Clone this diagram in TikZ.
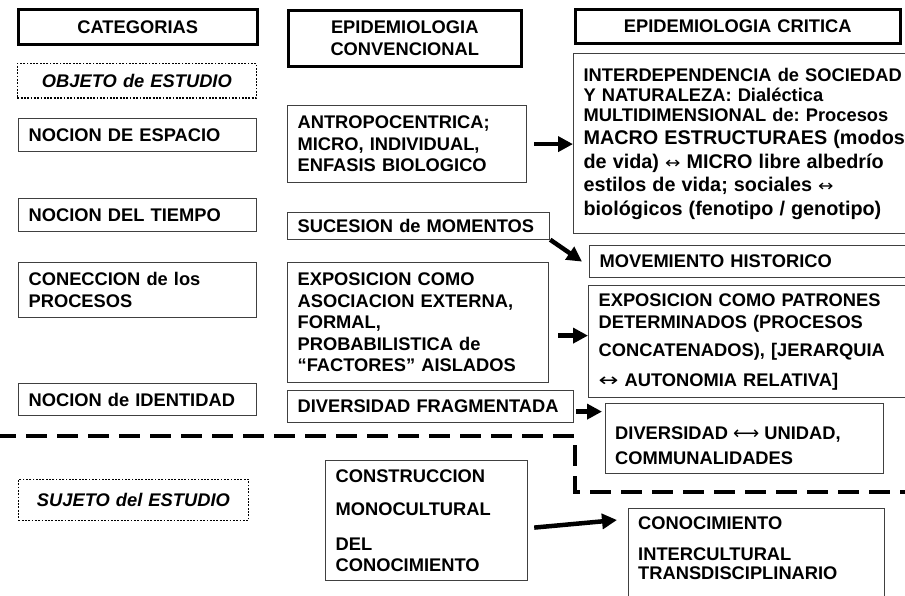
\documentclass[tikz,border=0pt]{standalone}
\usepackage{fontspec}
\setmainfont{Liberation Sans}
\newfontfamily\dejavu{DejaVu Sans}
\usetikzlibrary{arrows.meta,calc}
\newcommand\lrarr[1]{{\dejavu\mdseries\scalebox{#1}[1]{↔}}}
\begin{document}
\frenchspacing
\begin{tikzpicture}[x=1pt,y=-1pt,
  every node/.style={font=\fontsize{18.3}{21.5}\selectfont\bfseries, anchor=north west, inner xsep=10pt, inner ysep=0pt, align=left},
  thinbox/.style={draw=black!75, line width=1.2pt},
  thickbox/.style={draw=black, line width=3.5pt, align=center, inner xsep=0pt},
  dotbox/.style={draw=black, line width=1.8pt, dash pattern=on 1.8pt off 1.5pt, align=center, inner xsep=0pt, font=\fontsize{18.3}{21.5}\selectfont\bfseries\itshape},
  arr/.style={line width=4.5pt, -{Triangle[length=15pt,width=15pt]}},
  divider/.style={line width=4pt, dash pattern=on 21pt off 10pt}
]
\useasboundingbox (0,0) rectangle (905,595);
\clip (0,0) rectangle (905,595);

% column titles
\node[thickbox, minimum width=239, minimum height=35, text width=239] (cat) at (16.5,7.5) {CATEGORIAS};
\node[thickbox, minimum width=233, minimum height=56, text width=233] (conv) at (286.5,8.5) {EPIDEMIOLOGIA\\CONVENCIONAL};
\node[thickbox, minimum width=325, minimum height=34, text width=325] (crit) at (573.5,7.5) {EPIDEMIOLOGIA CRITICA};

% dotted section labels
\node[dotbox, minimum width=239, minimum height=34.5, text width=239] (obj) at (16.5,62.5) {OBJETO de ESTUDIO};
\node[dotbox, minimum width=230, minimum height=41, text width=230] (suj) at (17.5,478.5) {SUJETO del ESTUDIO};

% categories
\node[thinbox, minimum width=238, minimum height=33, text width=218] (esp) at (18,118) {NOCION DE ESPACIO};
\node[thinbox, minimum width=238, minimum height=33, text width=218] (tiem) at (18,198) {NOCION DEL TIEMPO};
\node[thinbox, minimum width=238, minimum height=55, text width=218] (conec) at (18,262) {CONECCION de los\\PROCESOS};
\node[thinbox, minimum width=238, minimum height=32, text width=218] (ident) at (18,383) {NOCION de IDENTIDAD};

% conventional
\node[thinbox, minimum width=239, minimum height=77, text width=219] (antro) at (287,105) {ANTROPOCENTRICA;\\MICRO, INDIVIDUAL,\\ENFASIS BIOLOGICO};
\node[thinbox, minimum width=262, minimum height=26.5, text width=242] (suc) at (287,212) {SUCESION de MOMENTOS};
\node[thinbox, minimum width=261, minimum height=120, text width=241] (expo) at (287,262) {EXPOSICION COMO\\ASOCIACION EXTERNA,\\FORMAL,\\PROBABILISTICA de\\“FACTORES” AISLADOS};
\node[thinbox, minimum width=286, minimum height=32, text width=266] (divf) at (287,390) {DIVERSIDAD FRAGMENTADA};
\node[thinbox, minimum width=202, minimum height=120, text width=182, font=\fontsize{18.3}{20.5}\selectfont\bfseries] (constr) at (325,460) {CONSTRUCCION\\[12.5pt]MONOCULTURAL\\[14.5pt]DEL\\CONOCIMIENTO};

% critical
\node[thinbox, minimum width=345, minimum height=180, text width=325, font=\fontsize{18.3}{20}\selectfont\bfseries] (inter) at (573,53) {INTERDEPENDENCIA de SOCIEDAD\\Y NATURALEZA: Dialéctica\\MULTIDIMENSIONAL de: Procesos\\[3.5pt]{\fontsize{19.8}{20}\selectfont MACRO ESTRUCTURAES (modos\\[3.5pt]de vida) {\fontsize{16}{20}\selectfont\lrarr{1.15}} MICRO libre albedrío\\[3.5pt]estilos de vida; sociales {\fontsize{16}{20}\selectfont\lrarr{1.15}}\\[3.5pt]biológicos (fenotipo / genotipo)}};
\node[thinbox, minimum width=330, minimum height=32, text width=310] (mov) at (589,245) {MOVEMIENTO HISTORICO};
\node[thinbox, minimum width=330, minimum height=112, text width=310, font=\fontsize{18.3}{22}\selectfont\bfseries] (patr) at (588,285) {EXPOSICION COMO PATRONES\\DETERMINADOS (PROCESOS\\[6pt]CONCATENADOS), [JERARQUIA\\[8pt]\lrarr{1.3} AUTONOMIA RELATIVA]};
\node[thinbox, minimum width=278, minimum height=70] (divu) at (605,403) {};
\node[anchor=west, font=\fontsize{18.3}{25}\selectfont\bfseries] (divutxt) at ($(divu.west)+(0,7.5)$) {DIVERSIDAD {\dejavu\mdseries ⟷} UNIDAD,\\COMMUNALIDADES};
\node[thinbox, minimum width=256, minimum height=110] (conoc) at (628,508) {};
\node[font=\fontsize{18.3}{19}\selectfont\bfseries] (conoctxt) at (628,516.5) {CONOCIMIENTO\\[12pt]INTERCULTURAL\\TRANSDISCIPLINARIO};

% divider
\draw[divider] (-5,436) -- (575,436) -- (575,492) -- (910,492);

% arrows
\coordinate (a1s) at ([xshift=7pt]antro.east);
\draw[arr] (a1s) -- (a1s -| inter.west);
\draw[arr] (suc.south east) -- ([xshift=-7pt]mov.west);
\coordinate (a3s) at ([xshift=9pt,yshift=-13pt]expo.east);
\draw[arr] (a3s) -- (a3s -| patr.west);
\coordinate (a4s) at ([xshift=2pt,yshift=-5pt]divf.east);
\draw[arr] (a4s) -- ($(a4s -| divu.west)+(-3,0)$);
\coordinate (a5s) at ([xshift=6pt,yshift=-7pt]constr.east);
\draw[arr] (a5s) -- ($(conoc.north west)+(-11,12)$);
\end{tikzpicture}
\end{document}
